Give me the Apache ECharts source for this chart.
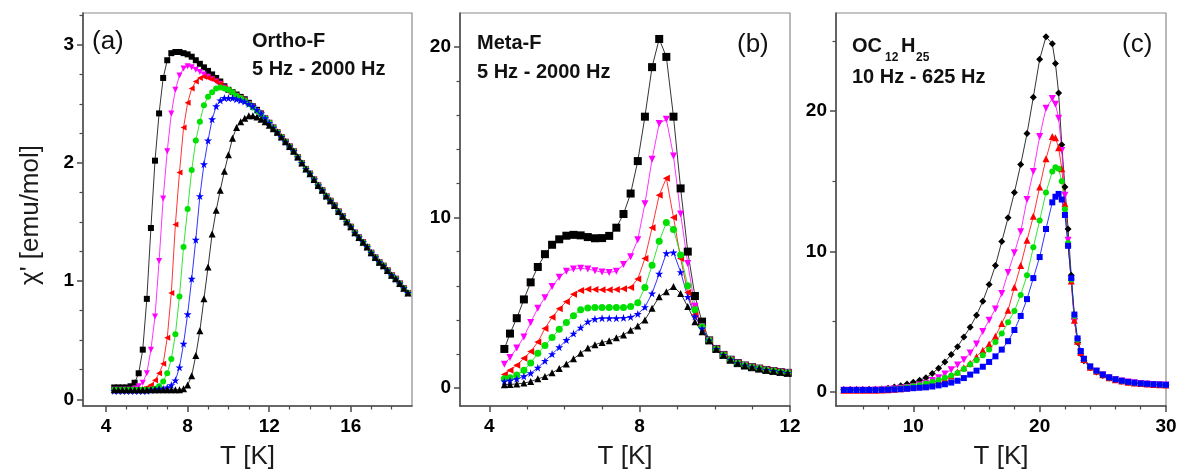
<!DOCTYPE html>
<html>
<head>
<meta charset="utf-8">
<script src="https://cdn.jsdelivr.net/npm/echarts@6/dist/echarts.min.js"></script>
<style>
  html, body { margin: 0; padding: 0; background: #ffffff; }
  #chart { width: 1179px; height: 472px; }
</style>
</head>
<body>
<div id="chart"></div>
<script>
// ---------- (a) Ortho-F, chi' vs T ----------
const tA = [4.4,4.6,4.8,5.0,5.2,5.4,5.6,5.8,6.0,6.2,6.4,6.6,6.8,7.0,7.2,7.4,7.6,7.8,8.0,8.2,8.4,8.6,8.8,9.0,9.2,9.4,9.6,9.8,10.0,10.2,10.4,10.6,10.8,11.0,11.2,11.4,11.6,11.8,12.0,12.2,12.4];
const a5Hz    = [0.10,0.10,0.10,0.10,0.11,0.14,0.22,0.42,0.85,1.45, 2.02,2.42,2.72,2.87,2.93,2.94,2.94,2.93,2.92,2.90, 2.87,2.84,2.81,2.78,2.75,2.72,2.69,2.65,2.62,2.60, 2.58,2.56,2.54,2.51,2.48,2.45,2.42,2.38,2.34,2.30,2.26];
const aMag    = [0.08,0.08,0.08,0.08,0.08,0.09,0.11,0.14,0.22,0.42, 0.70,1.17,1.70,2.10,2.42,2.62,2.74,2.80,2.82,2.81, 2.79,2.77,2.75,2.73,2.71,2.69,2.67,2.64,2.61,2.59, 2.57,2.55,2.53,2.50,2.47,2.44,2.41,2.38,2.34,2.30,2.26];
const aRed    = [0.08,0.08,0.08,0.08,0.08,0.08,0.08,0.09,0.10,0.12, 0.16,0.22,0.30,0.52,0.90,1.48,1.92,2.30,2.51,2.63, 2.69,2.72,2.73,2.72,2.71,2.69,2.67,2.64,2.61,2.59, 2.57,2.55,2.53,2.50,2.47,2.44,2.41,2.38,2.34,2.30,2.26];
const aGreen  = [0.08,0.08,0.08,0.08,0.08,0.08,0.08,0.08,0.08,0.08, 0.09,0.11,0.15,0.22,0.34,0.55,0.87,1.29,1.61,1.94, 2.19,2.35,2.49,2.56,2.60,2.63,2.64,2.63,2.62,2.60, 2.57,2.55,2.53,2.50,2.47,2.44,2.41,2.38,2.34,2.30,2.26];
const aBlue   = [0.07,0.07,0.07,0.07,0.07,0.07,0.07,0.07,0.07,0.08, 0.08,0.09,0.09,0.10,0.12,0.16,0.27,0.47,0.72,1.02, 1.35,1.72,1.99,2.19,2.37,2.48,2.53,2.55,2.55,2.55, 2.54,2.53,2.52,2.50,2.48,2.45,2.42,2.38,2.34,2.30,2.26];
const a2000Hz = [0.08,0.08,0.08,0.08,0.08,0.08,0.08,0.08,0.08,0.08, 0.08,0.08,0.08,0.08,0.08,0.08,0.08,0.09,0.12,0.20, 0.37,0.58,0.85,1.12,1.40,1.60,1.77,1.93,2.07,2.21, 2.30,2.35,2.38,2.40,2.40,2.39,2.37,2.35,2.32,2.29,2.26];
// common high-temperature branch, shared by all frequencies
const tATail = [12.6,12.8,13.0,13.2,13.4,13.6,13.8,14.0,14.2,14.4,14.6,14.8,15.0,15.2,15.4,15.6,15.8,16.0,16.2,16.4,16.6,16.8,17.0,17.2,17.4,17.6,17.8,18.0,18.2,18.4,18.6,18.8];
const aTail  = [2.22,2.18,2.14,2.10,2.05,2.00,1.95,1.91,1.86,1.81, 1.77,1.72,1.68,1.64,1.59,1.55,1.50,1.46,1.41,1.37, 1.33,1.29,1.24,1.20,1.16,1.13,1.09,1.05,1.02,0.98, 0.94,0.90];

// ---------- (b) Meta-F ----------
const tB = [4.4,4.55,4.73,4.92,5.1,5.29,5.48,5.67,5.86,6.05,6.24,6.43,6.62,6.81,7.0,7.19,7.38,7.57,7.76,7.95,8.14,8.33,8.52,8.71,8.9,9.09,9.28,9.47,9.66];
const b5Hz    = [2.3,3.2,4.1,5.2,6.2,7.1,7.85,8.4,8.72,8.93, 8.98,8.95,8.85,8.78,8.79,8.92,9.4,10.2,11.4,13.3, 15.9,18.8,20.45,19.4,15.9,11.7,8.0,5.4,3.9];
const bMag    = [1.4,1.8,2.35,3.0,3.85,4.68,5.3,5.95,6.5,6.85, 6.98,7.02,6.98,6.88,6.8,6.78,6.85,7.25,7.7,8.7, 10.8,13.4,15.5,15.75,13.6,10.2,7.3,4.8,3.6];
const bRed    = [0.8,1.05,1.35,1.75,2.15,2.7,3.5,4.15,4.65,5.07, 5.5,5.72,5.8,5.78,5.76,5.76,5.78,5.82,5.9,6.4, 7.6,9.4,11.3,12.3,10.0,7.6,5.6,4.3,3.5];
const bGreen  = [0.55,0.62,0.78,1.05,1.48,2.05,2.5,2.97,3.45,3.85, 4.25,4.6,4.7,4.72,4.72,4.72,4.72,4.73,4.78,5.0, 5.9,7.2,8.6,9.7,9.3,7.8,6.0,4.6,3.6];
const bBlue   = [0.4,0.45,0.55,0.7,0.88,1.2,1.6,2.0,2.4,2.82, 3.2,3.55,3.9,4.05,4.1,4.1,4.1,4.12,4.17,4.35, 4.75,5.55,6.7,7.9,7.95,6.8,5.35,4.2,3.5];
const b2000Hz = [0.2,0.22,0.25,0.3,0.39,0.55,0.68,0.9,1.15,1.42, 1.72,2.05,2.35,2.55,2.68,2.78,2.95,3.12,3.4,3.65, 4.0,4.68,5.35,5.65,5.95,5.55,4.78,3.9,3.3];
const tBTail = [9.85,10.04,10.23,10.42,10.61,10.8,10.99,11.18,11.37,11.56,11.75,11.94];
const bTail  = [2.8,2.3,1.95,1.67,1.47,1.33,1.23,1.15,1.07,1.01,0.95,0.9];

// ---------- (c) OC12H25 ----------
const tC = [4.5,5,5.5,6,6.5,7,7.5,8,8.5,9, 9.5,10,10.5,11,11.5,12,12.5,13,13.5,14, 14.5,15,15.5,16,16.5,17,17.5,18,18.5,19, 19.5,20,20.5,21,21.25,21.5,21.75,22,22.25,22.5, 22.75,23,23.25,23.5,24,24.5,25,25.5,26,26.5, 27,27.5,28,28.5,29,29.5,30];
const c10Hz  = [0.15,0.15,0.16,0.16,0.17,0.18,0.20,0.25,0.33,0.43, 0.54,0.67,0.82,1.0,1.3,1.68,2.12,2.65,3.2,3.9, 4.6,5.45,6.45,7.65,9.0,10.7,12.4,14.2,16.2,18.4, 21.0,23.7,25.3,24.8,23.4,21.3,17.6,14.6,11.6,8.3, 5.2,3.5,2.7,2.2,1.7,1.4,1.15,0.98,0.85,0.75, 0.68,0.62,0.58,0.55,0.52,0.50,0.48];
const cMag   = [0.10,0.10,0.10,0.10,0.11,0.12,0.14,0.17,0.20,0.24, 0.30,0.36,0.47,0.60,0.80,1.0,1.27,1.56,1.9,2.28, 2.75,3.4,4.3,5.1,5.9,7.0,8.5,9.9,11.4,13.7, 15.7,18.2,20.2,20.9,20.5,19.5,17.2,14.0,10.8,7.8, 5.0,3.6,2.8,2.3,1.75,1.45,1.2,1.0,0.87,0.77, 0.69,0.63,0.58,0.55,0.52,0.50,0.48];
const cRed   = [0.10,0.10,0.10,0.10,0.10,0.11,0.12,0.14,0.17,0.21, 0.26,0.31,0.40,0.52,0.65,0.80,0.92,1.12,1.4,1.7, 2.02,2.5,2.95,3.4,3.95,4.87,5.8,7.45,9.0,10.8, 12.5,14.6,16.6,18.2,18.1,17.4,15.9,13.4,10.6,7.9, 5.1,3.6,2.8,2.3,1.75,1.45,1.2,1.0,0.86,0.76, 0.68,0.62,0.58,0.55,0.52,0.50,0.48];
const cGreen = [0.12,0.12,0.12,0.12,0.13,0.14,0.15,0.17,0.20,0.25, 0.31,0.38,0.46,0.58,0.70,0.84,0.99,1.15,1.34,1.62, 1.93,2.25,2.6,3.0,3.55,4.15,4.95,5.75,6.9,8.3, 10.3,12.2,14.2,15.7,16.0,15.9,15.0,13.0,10.6,8.0, 5.4,3.7,2.9,2.35,1.8,1.5,1.22,1.02,0.88,0.78, 0.70,0.64,0.59,0.56,0.53,0.51,0.49];
const c625Hz = [0.12,0.12,0.12,0.12,0.12,0.12,0.13,0.14,0.16,0.18, 0.21,0.25,0.28,0.31,0.37,0.45,0.53,0.65,0.78,0.97, 1.22,1.5,1.78,2.12,2.52,3.0,3.6,4.4,5.4,6.6, 8.1,9.6,11.6,13.5,13.9,14.1,13.7,12.6,10.4,8.1, 5.5,3.8,2.9,2.35,1.8,1.5,1.22,1.02,0.88,0.78, 0.70,0.64,0.59,0.56,0.53,0.51,0.49];

// ---------- tick values ----------
const aXMajor = [4, 8, 12, 16];
const aXMinor = [5, 6, 7, 9, 10, 11, 13, 14, 15, 17, 18];
const aYMajor = [0, 1, 2, 3];
const aYMinor = [0.25, 0.5, 0.75, 1.25, 1.5, 1.75, 2.25, 2.5, 2.75, 3.25];
const bXMajor = [4, 8, 12];
const bXMinor = [5, 6, 7, 9, 10, 11];
const bYMajor = [0, 10, 20];
const bYMinor = [2, 4, 6, 8, 12, 14, 16, 18];
const cXMajor = [10, 20, 30];
const cXMinor = [6, 8, 12, 14, 16, 18, 22, 24, 26, 28];
const cYMajor = [0, 10, 20];
const cYMinor = [5, 15, 25];

// ---------- helpers ----------
const FONT = '"Liberation Sans", Arial, Helvetica, sans-serif';
const AXIS_COLOR = '#4a4a4a';
const pairs = (ts, vs) => ts.map((t, i) => [t, vs[i]]);

const STAR = 'path://M50,0 L61.2,34.5 L97.6,34.5 L68.2,55.9 L79.4,90.5 L50,69.1 L20.6,90.5 L31.8,55.9 L2.4,34.5 L38.8,34.5 Z';

const panels = [
  { left: 83,  width: 329, xMin: 2.87, xMax: 19.0, yMin: -0.057, yMax: 3.27,
    xMajor: aXMajor, xMinor: aXMinor, yMajor: aYMajor, yMinor: aYMinor },
  { left: 460, width: 330, xMin: 3.22, xMax: 12.0, yMin: -1.04, yMax: 21.97,
    xMajor: bXMajor, xMinor: bXMinor, yMajor: bYMajor, yMinor: bYMinor },
  { left: 836, width: 330, xMin: 3.88, xMax: 30.0, yMin: -1.02, yMax: 27.0,
    xMajor: cXMajor, xMinor: cXMinor, yMajor: cYMajor, yMinor: cYMinor }
];
const TOP = 13, HEIGHT = 393;

const grids = [], xAxes = [], yAxes = [];
panels.forEach((p, i) => {
  grids.push({ left: p.left, top: TOP, width: p.width, height: HEIGHT, show: true,
    outerBoundsMode: 'none', containLabel: false,
    borderColor: '#8a8a8a', borderWidth: 1.2, backgroundColor: 'transparent' });
  // main axes: line, long ticks and labels
  xAxes.push({ type: 'value', gridIndex: i, min: p.xMin, max: p.xMax, position: 'bottom',
    axisLine: { show: true, onZero: false, lineStyle: { color: AXIS_COLOR, width: 1.5 } },
    axisTick: { show: true, inside: false, length: 6, customValues: p.xMajor, lineStyle: { color: AXIS_COLOR, width: 1.5 } },
    axisLabel: { customValues: p.xMajor, margin: 11, fontSize: 19, fontWeight: 'bold', color: '#000', fontFamily: FONT },
    splitLine: { show: false },
    name: 'T [K]', nameLocation: 'middle', nameGap: 38,
    nameTextStyle: { fontSize: 26, color: '#1a1a1a', fontFamily: FONT } });
  // companion axes carrying only the short minor ticks
  xAxes.push({ type: 'value', gridIndex: i, min: p.xMin, max: p.xMax, position: 'bottom',
    axisLine: { show: false, onZero: false },
    axisTick: { show: true, inside: false, length: 3.5, customValues: p.xMinor, lineStyle: { color: AXIS_COLOR, width: 1.2 } },
    axisLabel: { show: false }, splitLine: { show: false } });
  yAxes.push({ type: 'value', gridIndex: i, min: p.yMin, max: p.yMax, position: 'left',
    axisLine: { show: true, onZero: false, lineStyle: { color: AXIS_COLOR, width: 1.5 } },
    axisTick: { show: true, inside: false, length: 6, customValues: p.yMajor, lineStyle: { color: AXIS_COLOR, width: 1.5 } },
    axisLabel: { customValues: p.yMajor, margin: 9, fontSize: 19, fontWeight: 'bold', color: '#000', fontFamily: FONT },
    splitLine: { show: false } });
  yAxes.push({ type: 'value', gridIndex: i, min: p.yMin, max: p.yMax, position: 'left',
    axisLine: { show: false, onZero: false },
    axisTick: { show: true, inside: false, length: 3.5, customValues: p.yMinor, lineStyle: { color: AXIS_COLOR, width: 1.2 } },
    axisLabel: { show: false }, splitLine: { show: false } });
});

function curve(name, panel, data, color, symbol, size, rotate) {
  return {
    type: 'line', name, xAxisIndex: panel * 2, yAxisIndex: panel * 2, data,
    symbol, symbolSize: size, symbolRotate: rotate || 0,
    showSymbol: true, showAllSymbol: true, clip: true, silent: true,
    lineStyle: { color, width: 0.8 }, itemStyle: { color, borderWidth: 0 },
    emphasis: { disabled: true }
  };
}

const series = [
  // (a)
  curve('a 5 Hz',    0, pairs(tA, a5Hz).concat(pairs(tATail, aTail)),    '#000000', 'rect', 6),
  curve('a mag',     0, pairs(tA, aMag).concat(pairs(tATail, aTail)),    '#ff00ff', 'triangle', 6, 180),
  curve('a red',     0, pairs(tA, aRed).concat(pairs(tATail, aTail)),    '#ff0000', 'triangle', 6, 90),
  curve('a green',   0, pairs(tA, aGreen).concat(pairs(tATail, aTail)),  '#00e000', 'circle', 6),
  curve('a blue',    0, pairs(tA, aBlue).concat(pairs(tATail, aTail)),   '#0000ff', STAR, 8),
  curve('a 2000 Hz', 0, pairs(tA, a2000Hz).concat(pairs(tATail, aTail)), '#000000', 'triangle', 7),
  // (b)
  curve('b 5 Hz',    1, pairs(tB, b5Hz).concat(pairs(tBTail, bTail)),    '#000000', 'rect', 8),
  curve('b mag',     1, pairs(tB, bMag).concat(pairs(tBTail, bTail)),    '#ff00ff', 'triangle', 7, 180),
  curve('b red',     1, pairs(tB, bRed).concat(pairs(tBTail, bTail)),    '#ff0000', 'triangle', 7, 90),
  curve('b green',   1, pairs(tB, bGreen).concat(pairs(tBTail, bTail)),  '#00e000', 'circle', 7),
  curve('b blue',    1, pairs(tB, bBlue).concat(pairs(tBTail, bTail)),   '#0000ff', STAR, 8),
  curve('b 2000 Hz', 1, pairs(tB, b2000Hz).concat(pairs(tBTail, bTail)), '#000000', 'triangle', 7),
  // (c)
  curve('c 10 Hz',   2, pairs(tC, c10Hz),  '#000000', 'diamond', 7),
  curve('c mag',     2, pairs(tC, cMag),   '#ff00ff', 'triangle', 7, 180),
  curve('c red',     2, pairs(tC, cRed),   '#ff0000', 'triangle', 7),
  curve('c green',   2, pairs(tC, cGreen), '#00e000', 'circle', 6),
  curve('c 625 Hz',  2, pairs(tC, c625Hz), '#0000ff', 'rect', 6)
];

function label(text, x, y, size, weight) {
  return { type: 'text', x, y, silent: true, z: 100,
    style: { text, fill: '#111', fontSize: size, fontWeight: weight || 'normal', fontFamily: FONT,
      align: 'left', verticalAlign: 'middle', textAlign: 'left', textVerticalAlign: 'middle' } };
}

const graphics = [
  // y-axis title of the left panel
  { type: 'text', x: 31, y: 215, rotation: Math.PI / 2, silent: true, z: 100,
    style: { text: "\u03c7' [emu/mol]", fill: '#1a1a1a', fontSize: 26, fontFamily: FONT,
      align: 'center', verticalAlign: 'middle', textAlign: 'center', textVerticalAlign: 'middle' } },
  label('(a)', 92, 42, 26),
  label('Ortho-F', 252, 41, 20, 'bold'),
  label('5 Hz - 2000 Hz', 252, 69, 20, 'bold'),
  label('Meta-F', 477, 43, 20, 'bold'),
  label('5 Hz - 2000 Hz', 477, 72, 20, 'bold'),
  label('(b)', 737, 45, 26),
  label('OC', 852, 46, 20, 'bold'),
  label('12', 885, 58, 12, 'bold'),
  label('H', 901, 46, 20, 'bold'),
  label('25', 916, 58, 12, 'bold'),
  label('10 Hz - 625 Hz', 852, 77, 20, 'bold'),
  label('(c)', 1122, 45, 26)
];

const chart = echarts.init(document.getElementById('chart'), null, { renderer: 'canvas' });
chart.setOption({
  backgroundColor: '#ffffff',
  animation: false,
  textStyle: { fontFamily: FONT },
  grid: grids,
  xAxis: xAxes,
  yAxis: yAxes,
  series,
  graphic: graphics
});
</script>
</body>
</html>
